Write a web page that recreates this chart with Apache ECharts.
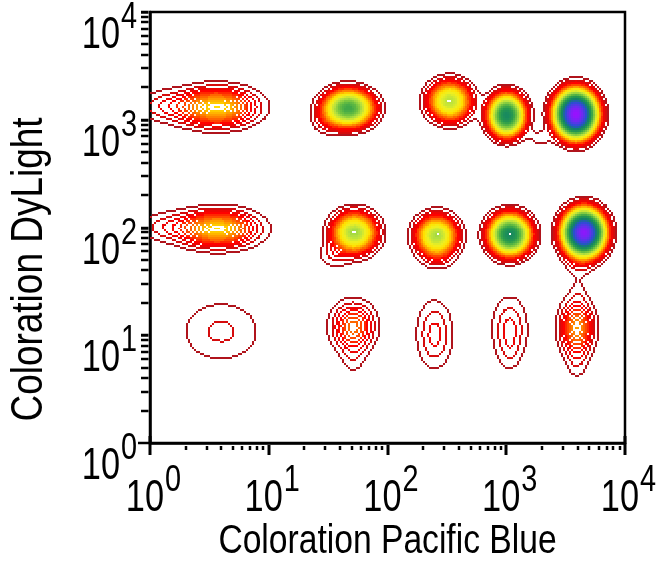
<!DOCTYPE html>
<html>
<head>
<meta charset="utf-8">
<script src="https://cdn.jsdelivr.net/npm/echarts@6/dist/echarts.min.js"></script>
<style>
  html, body { margin: 0; padding: 0; background: #ffffff; }
  #chart { width: 660px; height: 561px; }
</style>
</head>
<body>
<div id="chart"></div>
<script>
// Cell populations: centre and spread in log10 units, peak height in contour levels.
const popName  = ['A1', 'A1 tail', 'A2', 'A2 lobe', 'A3', 'A4', 'A5', 'A4-A5 bridge',
                  'B1', 'B1 tail', 'B2', 'B2 lobe', 'B3', 'B3 lobe', 'B4', 'B5', 'B5 tail',
                  'C1', 'C2', 'C2 tail', 'C3', 'C4', 'C4 tail', 'C5', 'C5 tail', 'C5 top'];
const popX     = [0.564, 0.126, 1.667, 1.482, 2.526, 3.006, 3.587, 3.284,
                  0.573, 0.135, 1.718, 1.549, 2.417, 2.425, 3.032, 3.655, 3.613,
                  0.598, 1.709, 1.709, 2.400, 3.032, 3.032, 3.596, 3.596, 3.604];
const popY     = [3.119, 3.128, 3.109, 2.989, 3.174, 3.044, 3.054, 2.831,
                  1.988, 2.006, 1.951, 1.738, 1.923, 1.738, 1.932, 1.951, 1.664,
                  1.033, 1.080, 0.802, 1.006, 1.052, 0.811, 1.070, 0.755, 1.395];
const popSX    = [0.202, 0.168, 0.118, 0.084, 0.105, 0.084, 0.093, 0.067,
                  0.202, 0.168, 0.109, 0.093, 0.101, 0.093, 0.097, 0.093, 0.084,
                  0.236, 0.114, 0.076, 0.101, 0.099, 0.059, 0.090, 0.067, 0.050];
const popSY    = [0.111, 0.100, 0.097, 0.083, 0.107, 0.107, 0.116, 0.056,
                  0.108, 0.095, 0.111, 0.083, 0.111, 0.093, 0.107, 0.116, 0.111,
                  0.204, 0.139, 0.130, 0.204, 0.195, 0.111, 0.158, 0.130, 0.074];
const popPeak  = [12, 2.5, 34, 2, 21, 45, 100, 1.5,
                  12, 2.3, 23, 2, 22, 1.8, 45, 95, 1.5,
                  2.25, 7.5, 1.5, 3.5, 3.5, 0.8, 9, 1.5, 0.8];

// Axis decades and minor-tick multipliers
const decades = [1, 10, 100, 1000, 10000];
const minorSteps = [2, 3, 4, 5, 6, 7, 8, 9];
const axisTitles = ['Coloration Pacific Blue', 'Coloration DyLight'];

// Contour colour ramp (fraction of the top level -> colour)
const rampStops = [
  [0.00, '#b0141c'], [0.18, '#dc0a0a'], [0.30, '#ff0000'], [0.40, '#ff5000'],
  [0.47, '#ff9400'], [0.54, '#ffe000'], [0.60, '#f0f020'], [0.66, '#b4e040'],
  [0.72, '#6cc040'], [0.78, '#2a9c4c'], [0.84, '#128266'], [0.90, '#2850d0'],
  [0.96, '#6a2cf0'], [1.00, '#9a10ff']
];
const TOP_LEVEL = 100;
const FONT = "'Liberation Sans', Arial, sans-serif";
const NARROW = 0.78;     // horizontal squeeze giving a narrow face

function hexToRgb(h) {
  return [parseInt(h.substr(1, 2), 16), parseInt(h.substr(3, 2), 16), parseInt(h.substr(5, 2), 16)];
}
function rampColor(t) {
  t = Math.max(0, Math.min(1, t));
  for (let i = 1; i < rampStops.length; i++) {
    if (t <= rampStops[i][0]) {
      const a = rampStops[i - 1], b = rampStops[i];
      const f = (t - a[0]) / (b[0] - a[0]);
      const ca = hexToRgb(a[1]), cb = hexToRgb(b[1]);
      const c = ca.map((v, k) => Math.round(v + (cb[k] - v) * f));
      return 'rgb(' + c.join(',') + ')';
    }
  }
  return rampStops[rampStops.length - 1][1];
}
const levelColors = [];
for (let k = 0; k <= TOP_LEVEL; k++) {
  levelColors.push(k < 1 ? '#ffffff' : rampColor(Math.log(k) / Math.log(TOP_LEVEL)));
}

// Density surface on a fine raster over the 4-decade square
const NX = 238, NY = 216, SPAN = 4;
const level = new Int32Array(NX * NY);
for (let j = 0; j < NY; j++) {
  const ly = (j + 0.5) * SPAN / NY;
  for (let i = 0; i < NX; i++) {
    const lx = (i + 0.5) * SPAN / NX;
    let d = 0;
    for (let p = 0; p < popX.length; p++) {
      const dx = (lx - popX[p]) / popSX[p];
      const dy = (ly - popY[p]) / popSY[p];
      const q = dx * dx + dy * dy;
      if (q < 40) d += popPeak[p] * Math.exp(-0.5 * q);
    }
    level[j * NX + i] = Math.min(TOP_LEVEL, Math.floor(d));
  }
}

// Contour cells: a raster cell is inked where its level rises above a neighbour's
const contourCells = [];
for (let j = 0; j < NY; j++) {
  for (let i = 0; i < NX; i++) {
    const k = level[j * NX + i];
    if (k < 1) continue;
    let lowest = k;
    if (i > 0) lowest = Math.min(lowest, level[j * NX + i - 1]);
    if (i < NX - 1) lowest = Math.min(lowest, level[j * NX + i + 1]);
    if (j > 0) lowest = Math.min(lowest, level[(j - 1) * NX + i]);
    if (j < NY - 1) lowest = Math.min(lowest, level[(j + 1) * NX + i]);
    if (k > lowest) {
      contourCells.push([
        Math.pow(10, i * SPAN / NX), Math.pow(10, j * SPAN / NY),
        Math.pow(10, (i + 1) * SPAN / NX), Math.pow(10, (j + 1) * SPAN / NY), k
      ]);
    }
  }
}

// Tick marks: [value, axis (0 = x, 1 = y), major flag]
const tickData = [];
decades.forEach(v => { tickData.push([v, 0, 1]); tickData.push([v, 1, 1]); });
decades.slice(0, 4).forEach(v => minorSteps.forEach(m => {
  tickData.push([v * m, 0, 0]); tickData.push([v * m, 1, 0]);
}));
// Decade labels: [value, axis]
const labelData = [];
decades.forEach(v => { labelData.push([v, 0]); labelData.push([v, 1]); });

function renderCell(params, api) {
  const p0 = api.coord([api.value(0), api.value(1)]);
  const p1 = api.coord([api.value(2), api.value(3)]);
  const x0 = Math.round(Math.min(p0[0], p1[0])), x1 = Math.round(Math.max(p0[0], p1[0]));
  const y0 = Math.round(Math.min(p0[1], p1[1])), y1 = Math.round(Math.max(p0[1], p1[1]));
  return {
    type: 'rect',
    shape: { x: x0, y: y0, width: x1 - x0, height: y1 - y0 },
    style: { fill: levelColors[api.value(4)] }
  };
}

function renderTick(params, api) {
  const v = api.value(0), axis = api.value(1), major = api.value(2);
  let shape;
  if (axis === 0) {
    const p = api.coord([v, 1]);
    const x = Math.round(p[0]);
    const isEnd = (v === 1 || v === 10000);
    if (isEnd) shape = { x: x - 1.5, y: p[1] - 7, width: 3, height: 19 };
    else if (major) shape = { x: x - 1.5, y: p[1] + 2, width: 3, height: 10 };
    else shape = { x: x - 1.25, y: p[1] + 3, width: 2.5, height: 4 };
  } else {
    const p = api.coord([1, v]);
    const y = Math.round(p[1]);
    if (v === 1) shape = { x: p[0] - 12, y: y - 1.25, width: 12, height: 2.5 };
    else shape = { x: p[0] - 9, y: y - 1.25, width: 7.5, height: major ? 3 : 2.5 };
  }
  return { type: 'rect', shape: shape, style: { fill: '#000000' } };
}

function narrowText(text, x, y, size, align, rotation, squeeze) {
  return {
    type: 'text', x: x, y: y, scaleX: squeeze || NARROW, rotation: rotation || 0,
    style: {
      text: text, fontFamily: FONT, fontSize: size, fill: '#000000',
      align: align, verticalAlign: 'middle'
    }
  };
}

// Power-of-ten labels: "10" plus a raised exponent
function renderLabel(params, api) {
  const v = api.value(0), axis = api.value(1);
  const exp = String(Math.round(Math.log10(v)));
  let baseX, baseY;
  if (axis === 0) {
    const p = api.coord([v, 1]);
    baseX = p[0] + 14; baseY = p[1] + 56;
  } else {
    const p = api.coord([1, v]);
    baseX = p[0] - 30; baseY = p[1] + 24;
  }
  return {
    type: 'group',
    children: [
      narrowText('10', baseX, baseY, 44, 'right'),
      narrowText(exp, baseX + 1, baseY - 18, 37, 'left')
    ]
  };
}

// Axis titles, centred on the middle decade of each axis
function renderTitle(params, api) {
  const axis = api.value(0);
  if (axis === 0) {
    const p = api.coord([100, 1]);
    return narrowText(axisTitles[0], p[0], p[1] + 99, 41, 'center', 0, 0.82);
  }
  const p = api.coord([1, 100]);
  return narrowText(axisTitles[1], p[0] - 120, p[1] + 42, 44, 'center', Math.PI / 2, 0.84);
}

const chart = echarts.init(document.getElementById('chart'), null, { renderer: 'canvas' });
chart.setOption({
  animation: false,
  backgroundColor: '#ffffff',
  grid: {
    left: 150, right: 35, top: 12, bottom: 118,
    show: true, borderColor: '#000000', borderWidth: 2.5, backgroundColor: 'transparent'
  },
  xAxis: {
    type: 'log', logBase: 10, min: 1, max: 10000,
    axisLine: { show: true, lineStyle: { color: '#000', width: 2.5 } },
    axisTick: { show: false }, minorTick: { show: false },
    splitLine: { show: false }, axisLabel: { show: false }
  },
  yAxis: {
    type: 'log', logBase: 10, min: 1, max: 10000,
    axisLine: { show: true, lineStyle: { color: '#000', width: 2.5 } },
    axisTick: { show: false }, minorTick: { show: false },
    splitLine: { show: false }, axisLabel: { show: false }
  },
  series: [
    {
      type: 'custom', name: 'contours', renderItem: renderCell,
      data: contourCells, encode: { x: [0, 2], y: [1, 3] },
      progressive: 0, clip: true, silent: true, z: 2
    },
    {
      type: 'custom', name: 'ticks', renderItem: renderTick,
      data: tickData, encode: { x: 0 },
      progressive: 0, clip: false, silent: true, z: 3
    },
    {
      type: 'custom', name: 'decade labels', renderItem: renderLabel,
      data: labelData, encode: { x: 0 },
      progressive: 0, clip: false, silent: true, z: 3
    },
    {
      type: 'custom', name: 'axis titles', renderItem: renderTitle,
      data: [[0], [1]], encode: {},
      progressive: 0, clip: false, silent: true, z: 3
    }
  ]
});
</script>
</body>
</html>
